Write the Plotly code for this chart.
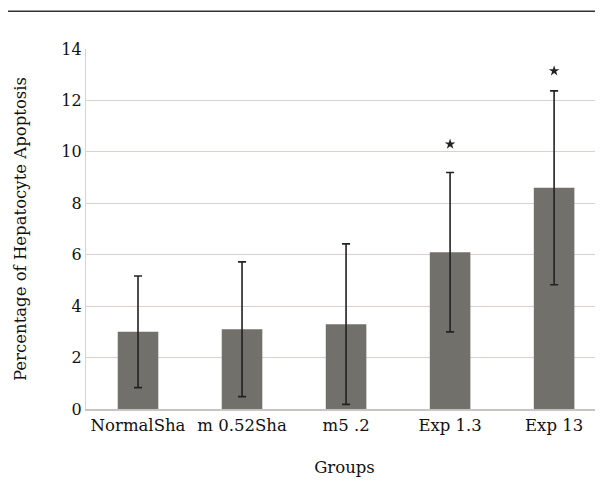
import plotly.graph_objects as go

categories = ["NormalSha", "m 0.52Sha", "m5 .2", "Exp 1.3", "Exp 13"]
means = [3.0, 3.1, 3.3, 6.1, 8.6]
errors = [2.17, 2.62, 3.12, 3.1, 3.77]
star_cats = ["Exp 1.3", "Exp 13"]
star_vals = [10.3, 13.15]

fig = go.Figure()
fig.add_trace(go.Bar(
    x=categories, y=means, width=0.39,
    marker=dict(color="#71706b", line=dict(width=0)),
    error_y=dict(type="data", array=errors, visible=True,
                 color="#222222", thickness=1.6, width=4),
    showlegend=False,
))
fig.add_trace(go.Scatter(
    x=star_cats, y=star_vals, mode="markers",
    marker=dict(symbol="star", size=8, color="#222222"),
    showlegend=False,
))

font = "DejaVu Serif"
fig.update_layout(
    width=603, height=484,
    margin=dict(l=78, r=8, t=41, b=83),
    paper_bgcolor="white", plot_bgcolor="white",
    font=dict(family=font, size=16, color="#111111"),
    xaxis=dict(range=[-0.5, 4.47], showgrid=False, showline=True,
               linecolor="#c8c4c4", linewidth=1.5, ticks="",
               tickfont=dict(size=16.5),
               title=dict(text="Groups", font=dict(size=16.5), standoff=28)),
    yaxis=dict(range=[0, 14], dtick=2, showgrid=True, gridcolor="#dccfcf",
               gridwidth=1.2, showline=True, linecolor="#d8d2d2",
               linewidth=1.2, zeroline=False, ticks="",
               tickfont=dict(size=16),
               title=dict(text="Percentage of Hepatocyte Apoptosis",
                          font=dict(size=16.5), standoff=30)),
    shapes=[dict(type="line", xref="paper", yref="paper",
                 x0=-0.153, x1=1.02, y0=1.105, y1=1.105,
                 line=dict(color="#333333", width=1.5))],
)
fig.write_html("out.html")
